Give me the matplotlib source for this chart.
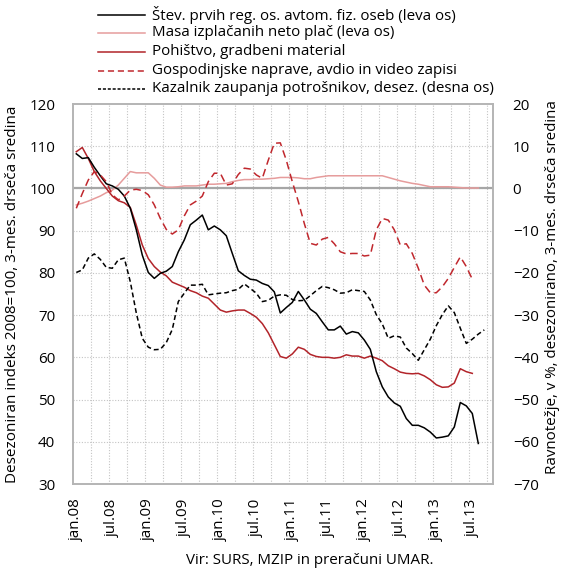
import matplotlib
matplotlib.use("Agg")
import matplotlib.pyplot as plt
from matplotlib.lines import Line2D
import numpy as np

plt.rcParams['font.family'] = ['Open Sans', 'DejaVu Sans']

# month labels on the category axis (jan.08 .. oct.13)
n_months = 70
tick_pos = list(range(0, 67, 6))
tick_labels = ['jan.08', 'jul.08', 'jan.09', 'jul.09', 'jan.10', 'jul.10',
               'jan.11', 'jul.11', 'jan.12', 'jul.12', 'jan.13', 'jul.13']

# left axis series (index 2008=100)
registrations = [108.2, 107.1, 107.3, 105.0, 103.0, 101.1, 100.6, 99.8, 98.2, 95.3,
                 90.2, 84.2, 80.1, 78.7, 79.9, 80.4, 81.5, 85.0, 87.8, 91.4,
                 92.5, 93.7, 90.2, 91.1, 90.2, 88.8, 84.6, 80.5, 79.4, 78.5,
                 78.3, 77.5, 77.0, 75.5, 70.5, 71.8, 73.0, 75.6, 73.6, 71.4,
                 70.4, 68.4, 66.5, 66.5, 67.4, 65.5, 66.1, 65.8, 64.1, 61.9,
                 56.6, 53.0, 50.6, 49.2, 48.4, 45.5, 43.9, 43.9, 43.3, 42.3,
                 40.9, 41.1, 41.4, 43.5, 49.3, 48.5, 46.7, 39.6]
wages = [96.1, 96.5, 97.0, 97.6, 98.2, 99.0, 99.6, 100.8, 102.4, 104.0,
         103.7, 103.7, 103.7, 102.4, 100.8, 100.3, 100.3, 100.4, 100.6, 100.6,
         100.6, 100.8, 101.0, 101.0, 101.1, 101.2, 101.6, 101.9, 102.1, 102.1,
         102.2, 102.2, 102.3, 102.4, 102.6, 102.6, 102.6, 102.5, 102.3, 102.3,
         102.6, 102.8, 103.0, 103.0, 103.0, 103.0, 103.0, 103.0, 103.0, 103.0,
         103.0, 103.0, 102.6, 102.2, 101.8, 101.5, 101.2, 101.0, 100.7, 100.4,
         100.4, 100.4, 100.4, 100.3, 100.2, 100.1, 100.1, 100.1]
furniture = [108.7, 109.7, 107.1, 104.0, 101.8, 100.0, 98.2, 97.1, 96.6, 95.5,
             91.3, 86.6, 83.4, 81.5, 80.2, 79.3, 77.8, 77.2, 76.6, 75.8,
             75.3, 74.5, 74.0, 72.6, 71.2, 70.7, 71.0, 71.2, 71.2, 70.4,
             69.5, 68.0, 65.8, 63.0, 60.2, 59.8, 60.8, 62.4, 61.9, 60.7,
             60.2, 60.0, 60.0, 59.8, 60.0, 60.6, 60.3, 60.3, 59.8, 60.3,
             59.8, 59.2, 58.0, 57.3, 56.5, 56.2, 56.1, 56.2, 55.6, 54.7,
             53.5, 52.9, 53.0, 53.9, 57.3, 56.6, 56.2]

# right axis series (balance, %)
appliances = [-4.7, -1.2, 2.0, 4.0, 3.2, 1.6, -1.5, -2.7, -1.8, -0.4,
              -0.2, -0.5, -1.5, -3.9, -7.1, -9.7, -10.8, -9.8, -6.5, -3.9,
              -3.0, -1.8, 1.6, 3.6, 3.6, 0.8, 1.1, 3.3, 4.8, 4.6,
              3.2, 2.4, 6.7, 10.7, 10.8, 6.7, 1.6, -3.1, -8.3, -13.0,
              -13.4, -12.0, -11.6, -13.1, -15.0, -15.5, -15.4, -15.4, -16.0, -15.8,
              -9.8, -7.1, -7.5, -9.8, -13.4, -13.1, -15.4, -18.9, -22.9, -24.7,
              -24.7, -23.3, -21.3, -18.7, -16.2, -18.5, -21.5]
confidence = [-19.9, -19.3, -16.5, -15.5, -16.8, -18.7, -18.9, -16.9, -16.5, -22.1,
              -29.5, -35.5, -37.6, -38.2, -38.1, -36.5, -33.4, -26.8, -24.8, -22.9,
              -22.9, -22.7, -25.2, -25.0, -24.8, -24.7, -24.2, -23.9, -22.6, -23.7,
              -24.8, -26.8, -26.5, -25.5, -25.2, -25.3, -26.3, -26.6, -26.5, -25.4,
              -24.2, -23.2, -23.5, -24.0, -24.8, -24.7, -24.0, -24.2, -24.4, -26.4,
              -29.9, -32.1, -35.5, -34.9, -35.2, -37.8, -39.1, -40.7, -38.2, -35.7,
              -32.5, -29.9, -27.8, -29.4, -33.1, -36.7, -35.7, -34.5, -33.5]

labels = ['Štev. prvih reg. os. avtom. fiz. oseb (leva os)',
          'Masa izplačanih neto plač (leva os)',
          'Pohištvo, gradbeni material',
          'Gospodinjske naprave, avdio in video zapisi',
          'Kazalnik zaupanja potrošnikov, desez. (desna os)']

black = '#000000'
pink = '#e69c9c'
red = '#b2242a'
red_d = '#c0272d'
grid_c = '#c4c4c4'
frame_c = '#b4b4b4'

fig = plt.figure(figsize=(5.63, 5.71), dpi=100)
ax = fig.add_axes([73.3 / 563, 1 - 484 / 571, 420 / 563, 380 / 571])
ax2 = ax.twinx()

# grid
for v in range(40, 120, 10):
    ax.axhline(v, color=grid_c, lw=0.8, ls=(0, (1, 1.5)), zorder=0)
for k in range(1, 24):
    ax.axvline(-0.5 + 3 * k, color=grid_c, lw=0.8, ls=(0, (1, 1.5)), zorder=0)
ax.axhline(100, color='#a6a6a6', lw=1.6, zorder=1)

lw = 1.1
ax.plot(np.arange(len(wages)), wages, color=pink, lw=lw, zorder=3)
ax.plot(np.arange(len(furniture)), furniture, color=red, lw=lw, zorder=3)
ax.plot(np.arange(len(registrations)), registrations, color=black, lw=lw, zorder=4)
ax2.plot(np.arange(len(appliances)), appliances, color=red_d, lw=lw, dashes=(5, 3))
ax2.plot(np.arange(len(confidence)), confidence, color=black, lw=lw, dashes=(3.2, 2))

ax.set_xlim(-0.5, n_months - 0.5)
ax.set_ylim(30, 120)
ax2.set_ylim(-70, 20)
ax.set_yticks(range(30, 121, 10))
ax2.set_yticks(range(-70, 21, 10))
ax.set_xticks(tick_pos)
ax.set_xticklabels(tick_labels, rotation=90)

fs = 10.9
ax.tick_params(axis='y', length=0, pad=13, labelsize=fs)
ax.tick_params(axis='x', length=0, pad=10.5, labelsize=fs)
ax2.tick_params(axis='y', length=0, pad=14, labelsize=fs)

for a in (ax, ax2):
    for s in a.spines.values():
        s.set_color(frame_c)
        s.set_linewidth(1.2)

ax.set_ylabel('Desezoniran indeks 2008=100, 3-mes. drseča sredina', fontsize=11)
ax.yaxis.set_label_coords(-0.127, 0.5)
ax2.set_ylabel('Ravnotežje, v %, desezonirano, 3-mes. drseča sredina', fontsize=fs,
               rotation=90)
ax2.yaxis.set_label_coords(1.122, 0.518)

# legend drawn at the top of the figure
styles = [dict(color=black), dict(color=pink), dict(color=red),
          dict(color=red_d, dashes=(4, 2.5)), dict(color=black, dashes=(2, 1.2))]
rows_y = [15, 32.7, 51.7, 70.7, 89]
for lab, st, yy in zip(labels, styles, rows_y):
    yf = 1 - yy / 571
    fig.add_artist(Line2D([98 / 563, 145 / 563], [yf, yf], lw=lw,
                          transform=fig.transFigure, **st))
    fig.text(152 / 563, yf, lab, fontsize=fs, va='center', ha='left')

fig.text(310 / 563, 1 - 560 / 571, 'Vir: SURS, MZIP in preračuni UMAR.',
         fontsize=fs, ha='center', va='center')

fig.savefig('out.png', dpi=100)
